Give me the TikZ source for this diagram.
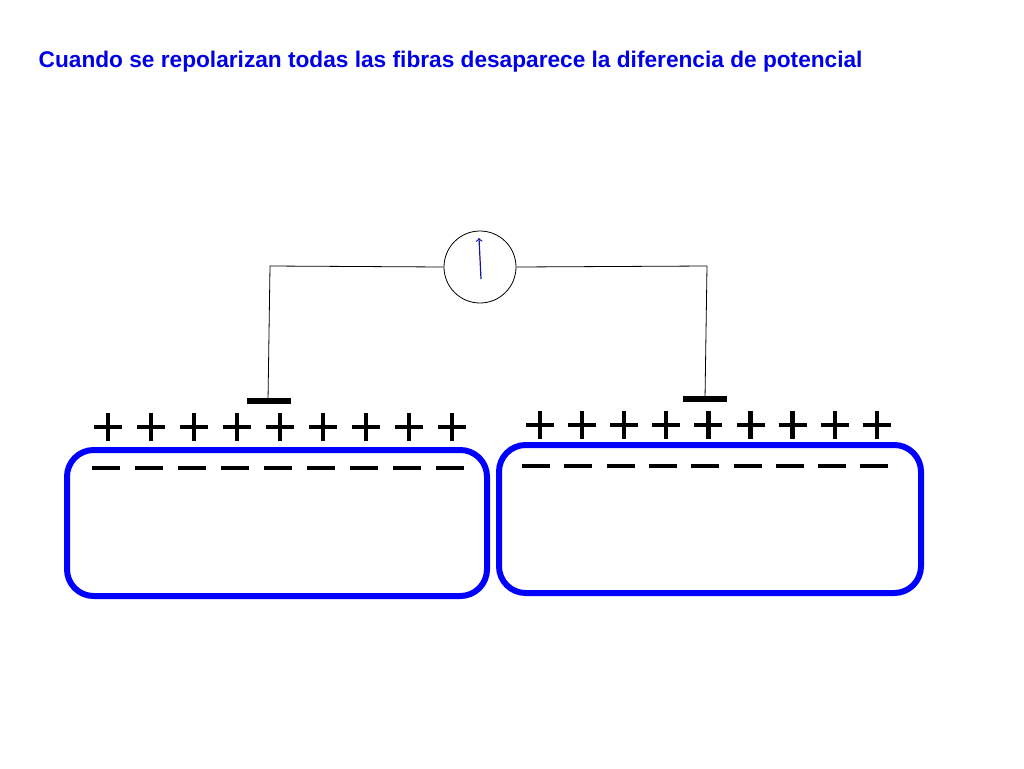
\documentclass[tikz,border=0pt]{standalone}
\usepackage{fontspec}
\setmainfont{Liberation Sans}
\usepackage{xcolor}
\definecolor{titleblue}{RGB}{0,0,230}
\definecolor{fiberblue}{RGB}{0,0,255}
\definecolor{needle}{RGB}{20,20,160}
\tikzset{
  fiber/.style={draw=fiberblue,line width=4.5pt,rounded corners=20pt},
  charge/.style={line width=3.2pt},
  electrode/.style={line width=5pt},
  wire/.style={line width=0.6pt}
}
\begin{document}
\begin{tikzpicture}[x=0.75pt,y=0.75pt,yscale=-1]
\useasboundingbox (0,0) rectangle (1024,768);

%Title
\node (title) [anchor=west,text=titleblue,font=\bfseries\fontsize{17}{20}\selectfont] at (34,62) {Cuando se repolarizan todas las fibras desaparece la diferencia de potencial};

%Meter
\node (meter) [draw,circle,minimum size=54pt,line width=0.6pt] at (480,267) {};
\draw [needle,line width=0.9pt,->] (481,279) -- (479,238);

%Electrodes
\coordinate (eleft) at (268,401);
\coordinate (eright) at (705,399);
\draw [electrode] (247,401) -- (291,401);
\draw [electrode] (683,399) -- (727,399);

%Wires
\draw [wire] (meter.west) -- (270,266) -- (eleft);
\draw [wire] (meter.east) -- (707,266) -- (eright);

%Fibers
\draw [fiber] (67,450) rectangle (487,596);
\draw [fiber] (499,445) rectangle (921,593);

%Charges
\foreach \i in {0,...,8} {
  \draw [charge] ({108+\i*43-14},427) -- ({108+\i*43+14},427);
  \draw [charge] ({108+\i*43},413) -- ({108+\i*43},441);
  \draw [charge] ({106+\i*43-14},468) -- ({106+\i*43+14},468);
  \draw [charge] ({540+\i*42.1-14},425) -- ({540+\i*42.1+14},425);
  \draw [charge] ({540+\i*42.1},411) -- ({540+\i*42.1},439);
  \draw [charge] ({536+\i*42.3-14},466) -- ({536+\i*42.3+14},466);
}
\end{tikzpicture}
\end{document}
